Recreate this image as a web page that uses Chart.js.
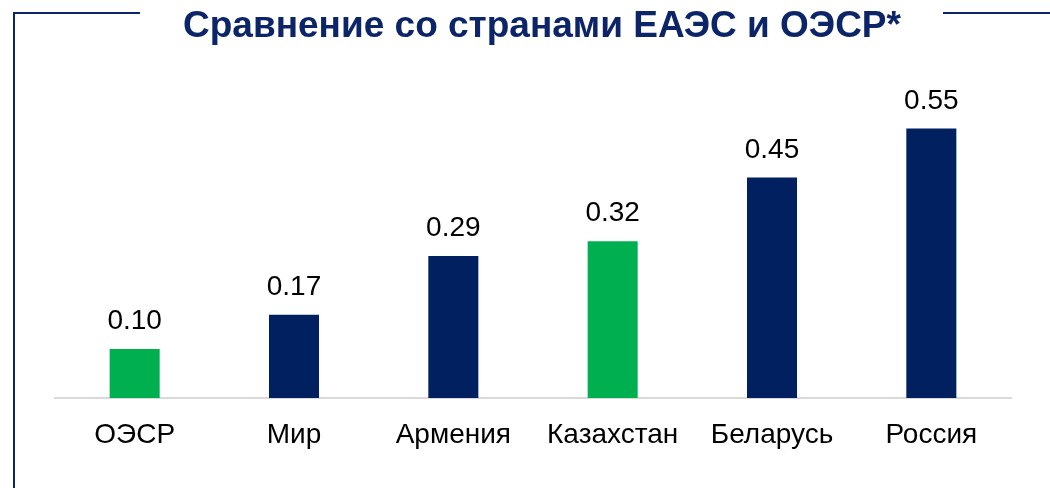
<!DOCTYPE html>
<html><head><meta charset="utf-8">
<script src="https://cdn.jsdelivr.net/npm/chart.js@4/dist/chart.umd.min.js"></script>
<style>html,body{margin:0;padding:0;background:#fff;}#wrap{width:1050px;height:488px;position:relative;}</style>
</head><body><div id="wrap"><canvas id="c" width="1050" height="488"></canvas></div>
<script>
const titleText = "Сравнение со странами ЕАЭС и ОЭСР*";
const categories = ["ОЭСР", "Мир", "Армения", "Казахстан", "Беларусь", "Россия"];
const values = [0.10, 0.17, 0.29, 0.32, 0.45, 0.55];
const barColors = ["#00B050", "#002060", "#002060", "#00B050", "#002060", "#002060"];
const FONT = "'Liberation Sans', Arial, sans-serif";
const NAVY = "#0B2568";

const framePlugin = {
  id: 'frame',
  beforeDraw(chart) {
    const ctx = chart.ctx;
    ctx.save();
    ctx.fillStyle = '#fff';
    ctx.fillRect(0, 0, chart.width, chart.height);
    ctx.strokeStyle = NAVY;
    ctx.lineWidth = 2;
    ctx.beginPath();
    ctx.moveTo(14, 488); ctx.lineTo(14, 13); ctx.lineTo(140, 13);
    ctx.moveTo(943, 13); ctx.lineTo(1050, 13);
    ctx.stroke();
    ctx.fillStyle = NAVY;
    ctx.font = "bold 37px " + FONT;
    ctx.textAlign = 'center';
    ctx.textBaseline = 'alphabetic';
    ctx.fillText(titleText, 542, 37);
    ctx.restore();
  }
};

const labelPlugin = {
  id: 'vals',
  afterDatasetsDraw(chart) {
    const ctx = chart.ctx;
    const meta = chart.getDatasetMeta(0);
    ctx.save();
    ctx.fillStyle = '#000';
    ctx.font = "28px " + FONT;
    ctx.textAlign = 'center';
    ctx.textBaseline = 'alphabetic';
    meta.data.forEach((bar, i) => {
      ctx.fillText(values[i].toFixed(2), bar.x, bar.y - 20);
    });
    ctx.restore();
  }
};

new Chart(document.getElementById('c'), {
  type: 'bar',
  data: {
    labels: categories,
    datasets: [{ data: values, backgroundColor: barColors, barPercentage: 0.314, categoryPercentage: 1 }]
  },
  options: {
    responsive: false,
    animation: false,
    devicePixelRatio: 1,
    layout: { padding: { top: 104, left: 55, right: 39, bottom: 0 } },
    plugins: { legend: { display: false }, title: { display: false }, tooltip: { enabled: false } },
    scales: {
      x: {
        grid: { display: false, drawTicks: false },
        border: { display: true, color: '#D9D9D9', width: 2 },
        ticks: { color: '#000', font: { family: FONT, size: 28 }, padding: 20, maxRotation: 0, autoSkip: false },
        afterFit(scale) { scale.height = 90; }
      },
      y: { display: false, min: 0, max: 0.6 }
    }
  },
  plugins: [framePlugin, labelPlugin]
});
</script></body></html>
